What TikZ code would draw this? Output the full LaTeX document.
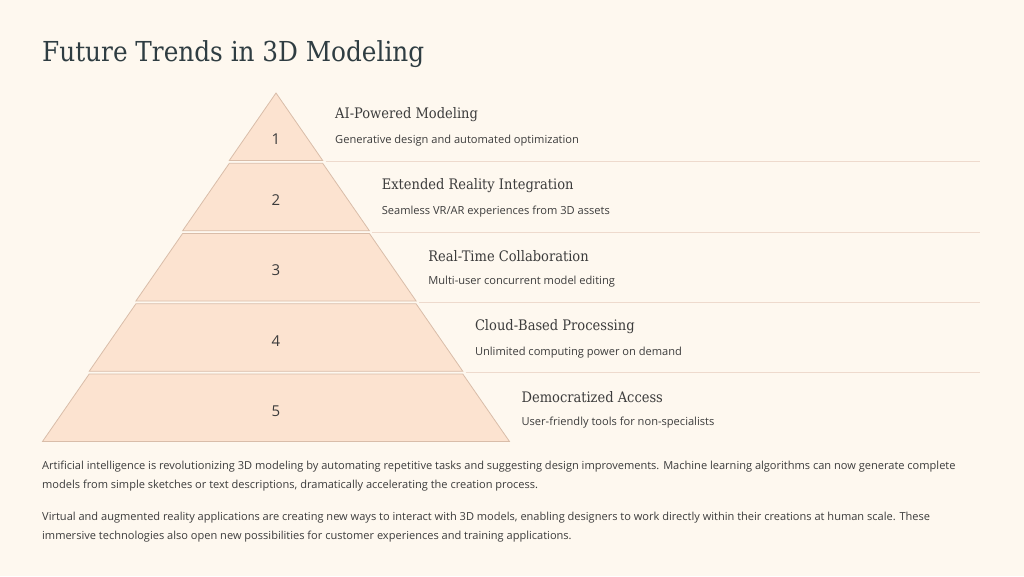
\documentclass[tikz,border=0pt]{standalone}
\usepackage{fontspec}
\setmainfont{Open Sans}
\newfontfamily\headfont{DejaVu Serif Condensed}
\definecolor{pagebg}{HTML}{FEF8EF}
\definecolor{layerfill}{HTML}{FCE3D0}
\definecolor{layeredge}{HTML}{D9BDA9}
\definecolor{sepline}{HTML}{EEDACD}
\definecolor{titleink}{HTML}{2F3D42}
\definecolor{textink}{HTML}{3C3C3C}
\tikzset{
  layer/.style={fill=layerfill, draw=layeredge, line width=0.8pt},
  sep/.style={draw=sepline, line width=1pt},
  num/.style={font=\fontsize{15}{18}\selectfont, text=textink},
  trend/.style={anchor=west, inner sep=0pt, font=\headfont\fontsize{14.5}{17}\selectfont, text=textink},
  detail/.style={anchor=west, inner sep=0pt, font=\fontsize{11.1}{13}\selectfont, text=textink},
  para/.style={anchor=north west, inner sep=0pt, align=left, font=\fontsize{11.05}{19}\selectfont, text=textink}
}
\begin{document}
\begin{tikzpicture}[x=1pt, y=-1pt]
	\fill[pagebg] (0, 0) rectangle (1024, 576);
	\useasboundingbox (0, 0) rectangle (1024, 576);
	\node[anchor=base west, inner sep=0pt, font=\headfont\fontsize{27.5}{33}\selectfont, text=titleink] at (42, 61) (title) {Future Trends in 3D Modeling};
	% pyramid layers
	\draw[layer] (276, 93) -- (322.7, 160.5) -- (229.3, 160.5) -- cycle;
	\draw[layer] (229.3, 163.3) -- (322.7, 163.3) -- (369.4, 230.8) -- (182.6, 230.8) -- cycle;
	\draw[layer] (182.6, 233.5) -- (369.4, 233.5) -- (416.1, 301) -- (135.9, 301) -- cycle;
	\draw[layer] (135.9, 303.8) -- (416.1, 303.8) -- (462.8, 371.3) -- (89.2, 371.3) -- cycle;
	\draw[layer] (89.2, 374) -- (462.8, 374) -- (509.5, 441.5) -- (42.5, 441.5) -- cycle;
	\node[num] at (276, 139) (n1) {1};
	\node[num] at (276, 200) (n2) {2};
	\node[num] at (276, 270) (n3) {3};
	\node[num] at (276, 341) (n4) {4};
	\node[num] at (276, 411) (n5) {5};
	% separators
	\coordinate (s1) at (325.7, 161.9);
	\coordinate (s2) at (372.4, 232.1);
	\coordinate (s3) at (419.1, 302.4);
	\coordinate (s4) at (465.8, 372.6);
	\draw[sep] (s1) -- (980, 161.9);
	\draw[sep] (s2) -- (980, 232.1);
	\draw[sep] (s3) -- (980, 302.4);
	\draw[sep] (s4) -- (980, 372.6);
	% labels
	\node[trend] at (335, 115) (t1) {AI-Powered Modeling};
	\node[detail] at (335, 141) (d1) {Generative design and automated optimization};
	\node[trend] at (381.6, 185.4) (t2) {Extended Reality Integration};
	\node[detail] at (381.6, 211.4) (d2) {Seamless VR/AR experiences from 3D assets};
	\node[trend] at (428.2, 255.8) (t3) {Real-Time Collaboration};
	\node[detail] at (428.2, 281.8) (d3) {Multi-user concurrent model editing};
	\node[trend] at (474.8, 326.2) (t4) {Cloud-Based Processing};
	\node[detail] at (474.8, 352.2) (d4) {Unlimited computing power on demand};
	\node[trend] at (521.4, 396.6) (t5) {Democratized Access};
	\node[detail] at (521.4, 422.6) (d5) {User-friendly tools for non-specialists};
	% paragraphs
	\node[para] at (42, 461) (p1) {Artificial intelligence is revolutionizing 3D modeling by automating repetitive tasks and suggesting design improvements. Machine learning algorithms can now generate complete\\models from simple sketches or text descriptions, dramatically accelerating the creation process.};
	\node[para] at (42, 512) (p2) {Virtual and augmented reality applications are creating new ways to interact with 3D models, enabling designers to work directly within their creations at human scale. These\\immersive technologies also open new possibilities for customer experiences and training applications.};
\end{tikzpicture}
\end{document}
